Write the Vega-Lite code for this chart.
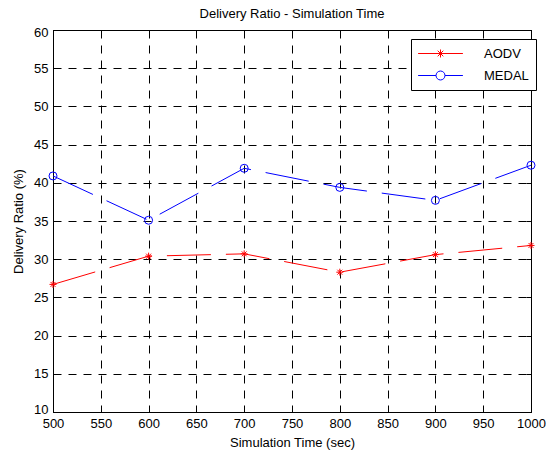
{
  "$schema": "https://vega.github.io/schema/vega-lite/v6.json",
  "width": 478,
  "height": 382,
  "autosize": {"type": "none"},
  "padding": {"left": 53, "top": 30, "right": 15, "bottom": 40},
  "background": "white",
  "config": {
    "font": "Liberation Sans",
    "view": {"stroke": "black", "strokeWidth": 1},
    "axis": {
      "labelFont": "Liberation Sans",
      "titleFont": "Liberation Sans",
      "labelFontSize": 13,
      "titleFontSize": 13,
      "labelColor": "black",
      "titleColor": "black",
      "titleFontWeight": "normal",
      "domainColor": "black",
      "tickColor": "black",
      "gridColor": "black",
      "gridDash": [8, 7],
      "gridOpacity": 1,
      "gridWidth": 1
    }
  },
  "title": {
    "text": "Delivery Ratio - Simulation Time",
    "fontSize": 13,
    "fontWeight": "normal",
    "font": "Liberation Sans",
    "color": "black",
    "baseline": "alphabetic",
    "offset": -5
  },
  "data": {
    "values": [
      {"t": 500, "series": "AODV", "ratio": 26.7},
      {"t": 600, "series": "AODV", "ratio": 30.4},
      {"t": 700, "series": "AODV", "ratio": 30.7},
      {"t": 800, "series": "AODV", "ratio": 28.3},
      {"t": 900, "series": "AODV", "ratio": 30.6},
      {"t": 1000, "series": "AODV", "ratio": 31.8},
      {"t": 500, "series": "MEDAL", "ratio": 40.9},
      {"t": 600, "series": "MEDAL", "ratio": 35.1},
      {"t": 700, "series": "MEDAL", "ratio": 41.9},
      {"t": 800, "series": "MEDAL", "ratio": 39.4},
      {"t": 900, "series": "MEDAL", "ratio": 37.7},
      {"t": 1000, "series": "MEDAL", "ratio": 42.3}
    ]
  },
  "resolve": {"axis": {"x": "independent", "y": "independent"}},
  "layer": [
    {
      "mark": {"type": "line", "strokeWidth": 1, "strokeDash": [44, 15]},
      "encoding": {
        "x": {
          "field": "t", "type": "quantitative",
          "scale": {"domain": [500, 1000], "nice": false, "zero": false},
          "axis": {
            "orient": "bottom",
            "values": [500, 550, 600, 650, 700, 750, 800, 850, 900, 950, 1000],
            "format": "d",
            "title": "Simulation Time (sec)",
            "tickSize": -5,
            "labelPadding": 10,
            "titlePadding": 6,
            "grid": true,
            "labelFlush": false,
            "labelOverlap": false
          }
        },
        "y": {
          "field": "ratio", "type": "quantitative",
          "scale": {"domain": [10, 60], "nice": false, "zero": false},
          "axis": {
            "orient": "left",
            "values": [10, 15, 20, 25, 30, 35, 40, 45, 50, 55, 60],
            "format": "d",
            "title": "Delivery Ratio (%)",
            "tickSize": -5,
            "labelPadding": 10,
            "titlePadding": 8,
            "grid": true,
            "labelFlush": true,
            "labelFlushOffset": 4,
            "labelOverlap": false
          }
        },
        "color": {
          "field": "series", "type": "nominal",
          "scale": {"domain": ["AODV", "MEDAL"], "range": ["#ff0000", "#0000ff"]},
          "legend": {
            "title": null,
            "orient": "none",
            "legendX": 358,
            "legendY": 9,
            "strokeColor": "black",
            "fillColor": "white",
            "padding": 7,
            "symbolSize": 196,
            "symbolStrokeWidth": 1,
            "symbolOffset": 15,
            "labelOffset": 36,
            "rowPadding": 7,
            "labelFontSize": 13,
            "labelFont": "Liberation Sans",
            "labelColor": "black",
            "encode": {
              "symbols": {
                "update": {
                  "shape": {"signal": "datum.value === 'AODV' ? 'M-3.2,0H3.2M-0.57,0H0.57M0,-0.57V0.57M-0.4,-0.4L0.4,0.4M-0.4,0.4L0.4,-0.4' : 'M-3.2,0H-0.64A0.64,0.64 0 1,1 0.64,0H3.2M0.64,0A0.64,0.64 0 1,1 -0.64,0'"},
                  "fill": {"value": "transparent"},
                  "strokeDash": {"value": []},
                  "strokeWidth": {"value": 1}
                }
              }
            }
          }
        }
      }
    },
    {
      "transform": [{"filter": "datum.series === 'AODV'"}],
      "mark": {
        "type": "point",
        "shape": "M-1,0H1M0,-1V1M-0.7,-0.7L0.7,0.7M-0.7,0.7L0.7,-0.7",
        "size": 49,
        "filled": false,
        "stroke": "#ff0000",
        "strokeWidth": 1,
        "opacity": 1
      },
      "encoding": {
        "x": {
          "field": "t", "type": "quantitative",
          "scale": {"domain": [500, 1000], "nice": false, "zero": false},
          "axis": {
            "orient": "top",
            "values": [500, 550, 600, 650, 700, 750, 800, 850, 900, 950, 1000],
            "labels": false,
            "title": null,
            "tickSize": -5,
            "grid": false
          }
        },
        "y": {
          "field": "ratio", "type": "quantitative",
          "scale": {"domain": [10, 60], "nice": false, "zero": false},
          "axis": {
            "orient": "right",
            "values": [10, 15, 20, 25, 30, 35, 40, 45, 50, 55, 60],
            "labels": false,
            "title": null,
            "tickSize": -5,
            "grid": false
          }
        }
      }
    },
    {
      "transform": [{"filter": "datum.series === 'MEDAL'"}],
      "mark": {
        "type": "point",
        "shape": "circle",
        "size": 64,
        "filled": false,
        "stroke": "#0000ff",
        "strokeWidth": 1,
        "opacity": 1
      },
      "encoding": {
        "x": {
          "field": "t", "type": "quantitative",
          "scale": {"domain": [500, 1000], "nice": false, "zero": false},
          "axis": null
        },
        "y": {
          "field": "ratio", "type": "quantitative",
          "scale": {"domain": [10, 60], "nice": false, "zero": false},
          "axis": null
        }
      }
    }
  ]
}
